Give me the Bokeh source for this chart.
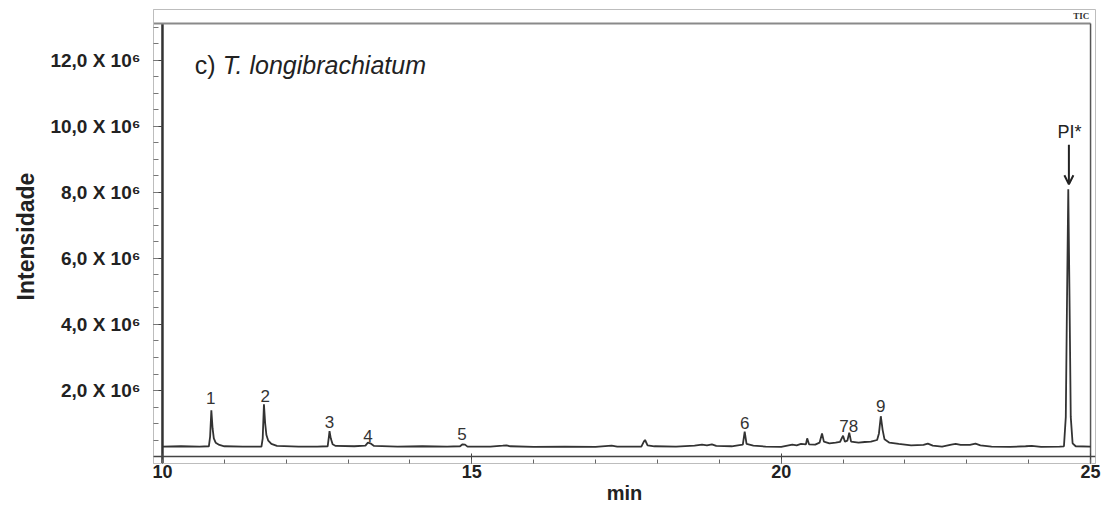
from bokeh.plotting import figure
from bokeh.models import Range1d, FixedTicker, Span, Arrow, OpenHead
from bokeh.core.properties import value
from bokeh.embed import file_html
from bokeh.resources import INLINE

# ---- data (retention time in min, intensity in units of 10^6) ----
retention_time = [
    10.00, 10.30, 10.60, 10.75, 10.77, 10.79, 10.81, 10.83, 10.86, 10.92, 11.00,
    11.30, 11.60, 11.62, 11.64, 11.66, 11.68, 11.71, 11.76, 11.85,
    12.20, 12.50, 12.67, 12.69, 12.70, 12.72, 12.75, 12.80,
    13.10, 13.28, 13.32, 13.36, 13.42, 13.80,
    14.20, 14.60, 14.81, 14.85, 14.89, 14.93,
    15.30, 15.50, 15.56, 15.62, 16.00, 16.50, 17.00, 17.26, 17.35,
    17.74, 17.78, 17.80, 17.84, 17.95,
    18.30, 18.60, 18.72, 18.80, 18.88, 18.95,
    19.20, 19.30, 19.38, 19.41, 19.44, 19.55, 19.75,
    20.00, 20.10, 20.18, 20.25, 20.32, 20.40, 20.42, 20.45, 20.55, 20.62, 20.66, 20.69,
    20.78, 20.88, 20.95, 21.00, 21.03, 21.07, 21.10, 21.13, 21.25, 21.35, 21.45,
    21.55, 21.58, 21.61, 21.64, 21.67, 21.75, 21.90,
    22.10, 22.30, 22.37, 22.45, 22.60, 22.75, 22.82, 22.90,
    23.05, 23.14, 23.22, 23.40, 23.70, 23.95, 24.05, 24.20, 24.50,
    24.57, 24.60, 24.62, 24.64, 24.66, 24.68, 24.71, 24.76, 25.00,
]
intensity = [
    0.30, 0.31, 0.30, 0.31, 0.60, 1.40, 0.85, 0.55, 0.42, 0.35, 0.31,
    0.30, 0.30, 0.55, 1.58, 1.00, 0.65, 0.48, 0.38, 0.32,
    0.30, 0.30, 0.31, 0.60, 0.77, 0.55, 0.37, 0.32,
    0.31, 0.33, 0.42, 0.40, 0.32, 0.30,
    0.31, 0.30, 0.31, 0.37, 0.36, 0.30,
    0.30, 0.33, 0.34, 0.31, 0.29, 0.30, 0.29, 0.33, 0.30,
    0.30, 0.45, 0.50, 0.34, 0.31,
    0.30, 0.33, 0.36, 0.34, 0.37, 0.32,
    0.31, 0.34, 0.36, 0.75, 0.38, 0.33, 0.30,
    0.29, 0.33, 0.36, 0.34, 0.38, 0.37, 0.55, 0.37, 0.36, 0.42, 0.70, 0.45,
    0.40, 0.42, 0.44, 0.63, 0.45, 0.48, 0.72, 0.45, 0.42, 0.44, 0.45,
    0.50, 0.70, 1.22, 0.80, 0.52, 0.42, 0.38,
    0.34, 0.35, 0.39, 0.33, 0.30, 0.36, 0.38, 0.35,
    0.35, 0.39, 0.34, 0.30, 0.29, 0.31, 0.32, 0.29, 0.30,
    0.31, 1.20, 4.80, 8.10, 4.80, 1.20, 0.40, 0.31, 0.30,
]

peak_ids = ["1", "2", "3", "4", "5", "6", "78", "9"]
peak_label_x = [10.78, 11.66, 12.70, 13.32, 14.84, 19.41, 21.09, 21.61]
peak_label_y = [1.77, 1.83, 1.04, 0.63, 0.69, 1.03, 0.93, 1.52]

x_ticks = [10, 15, 20, 25]
y_ticks = [2, 4, 6, 8, 10, 12]
y_tick_labels = ["2,0 X 10⁶", "4,0 X 10⁶", "6,0 X 10⁶", "8,0 X 10⁶",
                 "10,0 X 10⁶", "12,0 X 10⁶"]

title_prefix = "c)"
title_species = "T. longibrachiatum"
is_label = "PI*"
is_label_x = 24.66
is_label_y = 9.82
is_arrow = (24.65, 9.45, 24.65, 8.25)

# ---- layout constants ----
X_MIN, X_MAX = 9.855, 25.08
Y_MIN, Y_MAX = -0.212, 13.545
X_START, X_END = 10, 25
Y_TOP_INNER = 13.12
FONT = "Liberation Sans"

p = figure(width=1104, height=509, output_backend="svg", toolbar_location=None,
           x_range=Range1d(X_MIN, X_MAX), y_range=Range1d(Y_MIN, Y_MAX),
           min_border_left=153, min_border_right=9, min_border_top=9,
           min_border_bottom=46)
p.grid.visible = False
p.outline_line_color = "#bdbdbd"
p.outline_line_width = 1
p.background_fill_color = "white"

# x axis
xa = p.xaxis[0]
xa.ticker = FixedTicker(ticks=x_ticks, minor_ticks=list(range(10, 26)))
xa.axis_line_color = "#bdbdbd"
xa.major_tick_in = 10
xa.major_tick_out = 0
xa.minor_tick_in = 4
xa.minor_tick_out = 0
xa.major_tick_line_color = "#444444"
xa.minor_tick_line_color = "#666666"
xa.major_label_text_font = FONT
xa.major_label_text_font_style = "bold"
xa.major_label_text_font_size = "18px"
xa.major_label_text_color = "#222222"
xa.major_label_standoff = 1
xa.axis_label = "min"
xa.axis_label_text_font = FONT
xa.axis_label_text_font_style = "bold"
xa.axis_label_text_font_size = "20px"
xa.axis_label_text_color = "#222222"
xa.axis_label_text_align = "right"
xa.axis_label_standoff = 1

# y axis
ya = p.yaxis[0]
ya.ticker = FixedTicker(ticks=y_ticks, minor_ticks=[0.5 * i for i in range(27)])
ya.major_label_overrides = {t: l for t, l in zip(y_ticks, y_tick_labels)}
ya.axis_line_color = "#bdbdbd"
ya.major_tick_in = 9
ya.major_tick_out = 0
ya.minor_tick_in = 5
ya.minor_tick_out = 0
ya.major_tick_line_color = "#444444"
ya.minor_tick_line_color = "#777777"
ya.major_label_text_font = FONT
ya.major_label_text_font_style = "bold"
ya.major_label_text_font_size = "19px"
ya.major_label_text_color = "#222222"
ya.major_label_standoff = 13
ya.axis_label = "Intensidade"
ya.axis_label_text_font = FONT
ya.axis_label_text_font_style = "bold"
ya.axis_label_text_font_size = "23px"
ya.axis_label_text_color = "#222222"
ya.axis_label_standoff = 8

# inner frame lines
p.add_layout(Span(location=0, dimension="width", line_color="#444444", line_width=1.6))
p.segment(x0=[X_START], y0=[Y_MIN], x1=[X_START], y1=[Y_TOP_INNER],
          line_color="#333333", line_width=2.5)
p.segment(x0=[X_MIN], y0=[Y_TOP_INNER], x1=[X_END], y1=[Y_TOP_INNER],
          line_color="#8a8a8a", line_width=2)
p.segment(x0=[X_END], y0=[Y_MIN], x1=[X_END], y1=[Y_TOP_INNER],
          line_color="#555555", line_width=1.5)

# chromatogram
p.line(retention_time, intensity, line_color="#333333", line_width=1.8)

# peak labels
p.text(x=peak_label_x, y=peak_label_y, text=peak_ids,
       text_align="center", text_baseline="middle",
       text_font=value(FONT), text_font_size="17px", text_color="#333333")

# title inside plot
p.text(x=[10.52], y=[11.85], text=[title_prefix], text_align="left",
       text_baseline="middle", text_font=value(FONT), text_font_size="25px",
       text_color="#222222")
p.text(x=[10.52], y=[11.85], text=[title_species], x_offset=28, text_align="left",
       text_baseline="middle", text_font=value(FONT), text_font_size="25px",
       text_font_style="italic", text_color="#222222")

# internal standard
p.text(x=[is_label_x], y=[is_label_y], text=[is_label], text_align="center",
       text_baseline="middle", text_font=value(FONT), text_font_size="18px",
       text_color="#222222")
p.add_layout(Arrow(end=OpenHead(size=9, line_width=2, line_color="#222222"),
                   x_start=is_arrow[0], y_start=is_arrow[1],
                   x_end=is_arrow[2], y_end=is_arrow[3],
                   line_width=2, line_color="#222222"))

# TIC tag
p.text(x=[24.98], y=[13.36], text=["TIC"], text_align="right",
       text_baseline="middle", text_font=value("Liberation Serif"),
       text_font_size="9px", text_font_style="bold", text_color="#333333")

open("out.html", "w").write(file_html(p, INLINE))
